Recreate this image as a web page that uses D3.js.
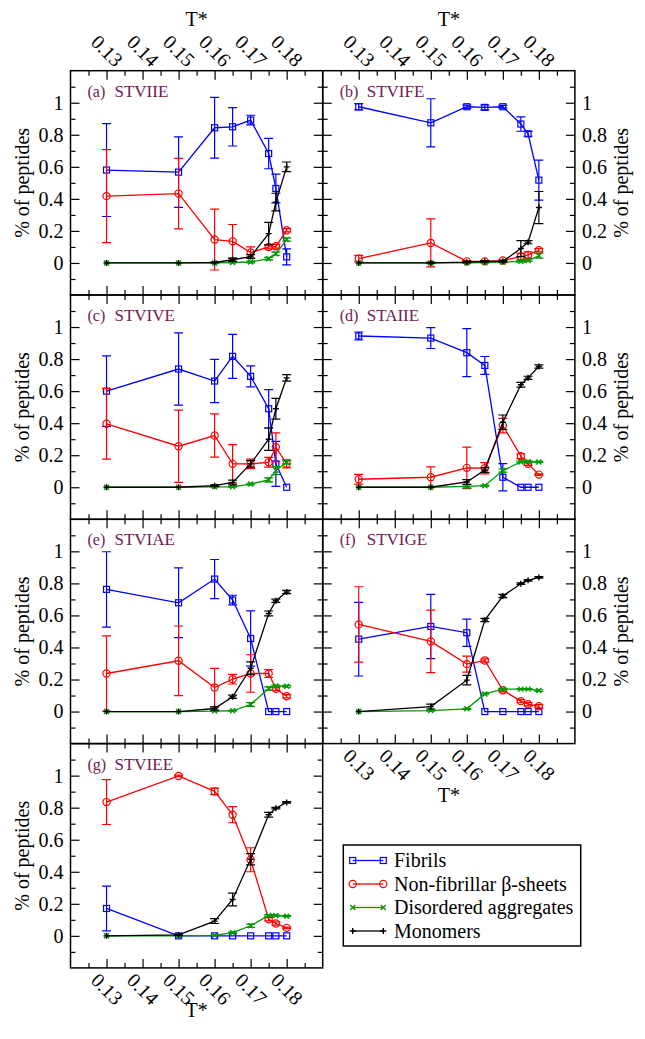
<!DOCTYPE html>
<html><head><meta charset="utf-8">
<script src="https://cdn.jsdelivr.net/npm/d3@7"></script>
<style>
body{margin:0;background:#fff}
svg{display:block}
</style>
</head><body>
<svg id="chart" width="645" height="1039"></svg>
<script>
// ---------------- data ----------------
const temperatures = [0.13, 0.15, 0.16, 0.165, 0.17, 0.175, 0.177, 0.18];
const panelLabels = ["(a)", "(b)", "(c)", "(d)", "(e)", "(f)", "(g)"];
const peptides = ["STVIIE", "STVIFE", "STVIVE", "STAIIE", "STVIAE", "STVIGE", "STVIEE"];
const seriesNames = ["Fibrils", "Non-fibrillar β-sheets", "Disordered aggregates", "Monomers"];
const xTickValues = [0.13, 0.14, 0.15, 0.16, 0.17, 0.18];
const xMinorTicks = [0.125, 0.135, 0.145, 0.155, 0.165, 0.175, 0.185];
const yTickValues = [0, 0.2, 0.4, 0.6, 0.8, 1];
const yMinorTicks = [-0.1, 0.1, 0.3, 0.5, 0.7, 0.9, 1.1];
const xAxisTitle = "T*";
const yAxisTitle = "% of peptides";

// one row per peptide (a..g), one value per temperature
const fibrils = [
  [0.58, 0.567, 0.844, 0.85, 0.892, 0.683, 0.465, 0.038],
  [0.975, 0.875, 0.975, 0.971, 0.975, 0.867, 0.806, 0.517],
  [0.6, 0.738, 0.663, 0.817, 0.692, 0.49, 0.146, 0],
  [0.944, 0.931, 0.84, 0.76, 0.0625, 0, 0, 0],
  [0.7625, 0.679, 0.827, 0.696, 0.456, 0, 0, 0],
  [0.452, 0.531, 0.492, 0, 0, 0, 0, 0],
  [0.171, 0, 0, 0, 0, 0, 0, 0]
];
const fibrilsErr = [
  [0.29, 0.22, 0.19, 0.12, 0.03, 0.095, 0.09, 0.05],
  [0.02, 0.15, 0.01, 0.015, 0.008, 0.045, 0.015, 0.125],
  [0.22, 0.225, 0.135, 0.137, 0.065, 0.12, 0.14, 0],
  [0.025, 0.065, 0.15, 0.056, 0.085, 0, 0, 0],
  [0.235, 0.218, 0.122, 0.03, 0.173, 0, 0, 0],
  [0.23, 0.2, 0.085, 0, 0, 0, 0, 0],
  [0.14, 0, 0, 0, 0, 0, 0, 0]
];
const nonFibrillar = [
  [0.417, 0.433, 0.146, 0.135, 0.065, 0.1, 0.104, 0.204],
  [0.027, 0.125, 0.01, 0.01, 0.015, 0.04, 0.05, 0.079],
  [0.396, 0.256, 0.323, 0.146, 0.146, 0.156, 0.25, 0.146],
  [0.05, 0.0625, 0.121, 0.119, 0.385, 0.194, 0.146, 0.079],
  [0.2375, 0.317, 0.15, 0.202, 0.2375, 0.2375, 0.142, 0.096],
  [0.544, 0.4375, 0.296, 0.319, 0.133, 0.065, 0.046, 0.033],
  [0.835, 0.998, 0.902, 0.756, 0.475, 0.104, 0.077, 0.05]
];
const nonFibrillarErr = [
  [0.29, 0.22, 0.19, 0.105, 0.035, 0.012, 0.012, 0.01],
  [0.02, 0.15, 0.005, 0.005, 0.005, 0.02, 0.02, 0.01],
  [0.22, 0.225, 0.135, 0.12, 0.03, 0.03, 0.09, 0.025],
  [0.03, 0.065, 0.13, 0.035, 0.045, 0.015, 0.01, 0.005],
  [0.235, 0.217, 0.12, 0.03, 0.117, 0.025, 0.01, 0.01],
  [0.235, 0.195, 0.05, 0.01, 0.01, 0.01, 0.01, 0.01],
  [0.14, 0.005, 0.02, 0.05, 0.075, 0.01, 0.01, 0.005]
];
const disordered = [
  [0, 0, 0, 0.003, 0.006, 0.027, 0.058, 0.146],
  [0, 0, 0, 0.003, 0.005, 0.01, 0.015, 0.045],
  [0, 0, 0.003, 0.003, 0.02, 0.046, 0.104, 0.156],
  [0, 0, 0.006, 0.01, 0.104, 0.158, 0.16, 0.158],
  [0, 0, 0.003, 0.005, 0.044, 0.144, 0.16, 0.158],
  [0, 0.006, 0.017, 0.11, 0.14, 0.14, 0.14, 0.131],
  [0, 0, 0.003, 0.02, 0.063, 0.127, 0.127, 0.123]
];
const disorderedErr = [
  [0, 0, 0, 0.003, 0.005, 0.008, 0.01, 0.01],
  [0, 0, 0, 0.002, 0.003, 0.005, 0.005, 0.015],
  [0, 0, 0.002, 0.002, 0.005, 0.012, 0.025, 0.01],
  [0, 0, 0.01, 0.003, 0.01, 0.005, 0.005, 0.003],
  [0, 0, 0.002, 0.002, 0.012, 0.01, 0.005, 0.005],
  [0, 0.003, 0.003, 0.005, 0.005, 0.003, 0.003, 0.005],
  [0, 0, 0.002, 0.005, 0.01, 0.005, 0.003, 0.003]
];
const monomers = [
  [0, 0, 0.003, 0.02, 0.04, 0.183, 0.38, 0.6],
  [0, 0, 0.005, 0.01, 0.01, 0.09, 0.13, 0.346],
  [0, 0, 0.01, 0.03, 0.146, 0.3, 0.49, 0.683],
  [0, 0, 0.033, 0.108, 0.406, 0.64, 0.683, 0.754],
  [0, 0, 0.019, 0.092, 0.27, 0.6125, 0.692, 0.746],
  [0, 0.031, 0.196, 0.571, 0.721, 0.798, 0.819, 0.8375],
  [0, 0.006, 0.092, 0.227, 0.478, 0.756, 0.797, 0.833]
];
const monomersErr = [
  [0, 0, 0.003, 0.01, 0.012, 0.07, 0.055, 0.03],
  [0, 0.005, 0.005, 0.005, 0.005, 0.05, 0.01, 0.1],
  [0, 0, 0.005, 0.015, 0.02, 0.07, 0.065, 0.02],
  [0, 0, 0.015, 0.015, 0.045, 0.015, 0.01, 0.01],
  [0, 0, 0.01, 0.01, 0.04, 0.015, 0.01, 0.01],
  [0, 0.015, 0.03, 0.01, 0.01, 0.005, 0.005, 0.005],
  [0, 0.005, 0.015, 0.04, 0.035, 0.015, 0.005, 0.005]
];

// ---------------- drawing ----------------
const FONT = "Liberation Serif";
const svg = d3.select("#chart");
const panelW = 252.2, panelH = 224.3;
const lefts = [70.5, 322.7];
const top0 = 70.7;
const labelColor = "#6e2050";
const lineW = 1.3;

const series = [
  {vals: fibrils, errs: fibrilsErr, color: "#0000ff", marker: "square"},
  {vals: nonFibrillar, errs: nonFibrillarErr, color: "#ff0000", marker: "circle"},
  {vals: disordered, errs: disorderedErr, color: "#009a00", marker: "cross"},
  {vals: monomers, errs: monomersErr, color: "#000000", marker: "plus"}
];

function drawMarker(sel, type, color, cx, cy) {
  if (type === "square") {
    sel.append("rect").attr("x", cx - 3).attr("y", cy - 3).attr("width", 6).attr("height", 6)
      .attr("fill", "none").attr("stroke", color).attr("stroke-width", 1.2);
  } else if (type === "circle") {
    sel.append("circle").attr("cx", cx).attr("cy", cy).attr("r", 3.6)
      .attr("fill", "none").attr("stroke", color).attr("stroke-width", 1.2);
  } else if (type === "cross") {
    sel.append("path").attr("d", `M${cx-2.5},${cy-2.5}L${cx+2.5},${cy+2.5}M${cx-2.5},${cy+2.5}L${cx+2.5},${cy-2.5}`)
      .attr("stroke", color).attr("stroke-width", 1.4);
  } else {
    sel.append("path").attr("d", `M${cx-3},${cy}L${cx+3},${cy}M${cx},${cy-3}L${cx},${cy+3}`)
      .attr("stroke", color).attr("stroke-width", 1.4);
  }
}

function styleAxis(s) {
  s.select(".domain").remove();
  s.attr("font-family", FONT).attr("font-size", 20);
  s.selectAll("line").attr("stroke", "#000").attr("stroke-width", 1.2);
  s.selectAll("text").attr("fill", "#000");
}

peptides.forEach((pep, i) => {
  const col = i % 2, row = Math.floor(i / 2);
  const gx = lefts[col], gy = top0 + row * panelH;
  const g = svg.append("g").attr("transform", `translate(${gx},${gy})`);
  const x = d3.scaleLinear().domain([0.12, 0.19]).range([0, panelW]);
  const y = d3.scaleLinear().domain([-0.2, 1.2]).range([panelH, 0]);

  const clipId = "clip" + i;
  g.append("clipPath").attr("id", clipId).append("rect").attr("width", panelW).attr("height", panelH);

  // minor ticks
  g.append("g").call(d3.axisTop(x).tickValues(xMinorTicks).tickSize(-5).tickFormat("")).call(styleAxis);
  g.append("g").attr("transform", `translate(0,${panelH})`).call(d3.axisBottom(x).tickValues(xMinorTicks).tickSize(-5).tickFormat("")).call(styleAxis);
  g.append("g").call(d3.axisLeft(y).tickValues(yMinorTicks).tickSize(-5).tickFormat("")).call(styleAxis);
  g.append("g").attr("transform", `translate(${panelW},0)`).call(d3.axisRight(y).tickValues(yMinorTicks).tickSize(-5).tickFormat("")).call(styleAxis);

  // major ticks (labels only on outer edges)
  const fmtX = d3.format(".2f");
  const fmtY = d3.format("~g");
  const topAx = g.append("g").call(d3.axisTop(x).tickValues(xTickValues).tickSize(-9).tickFormat(row === 0 ? fmtX : "")).call(styleAxis);
  const botLabels = (i === 5 || i === 6);
  const botAx = g.append("g").attr("transform", `translate(0,${panelH})`).call(d3.axisBottom(x).tickValues(xTickValues).tickSize(-9).tickFormat(botLabels ? fmtX : "")).call(styleAxis);
  g.append("g").call(d3.axisLeft(y).tickValues(yTickValues).tickSize(-9).tickPadding(7).tickFormat(col === 0 ? fmtY : "")).call(styleAxis);
  g.append("g").attr("transform", `translate(${panelW},0)`).call(d3.axisRight(y).tickValues(yTickValues).tickSize(-9).tickPadding(7).tickFormat(col === 1 ? fmtY : "")).call(styleAxis);

  topAx.selectAll("text").attr("y", null).attr("dy", null)
    .attr("text-anchor", "middle").attr("dominant-baseline", "central")
    .attr("transform", "translate(0,-20) rotate(45)");
  botAx.selectAll("text").attr("y", null).attr("dy", null)
    .attr("text-anchor", "middle").attr("dominant-baseline", "central")
    .attr("transform", "translate(0,21) rotate(45)");

  // frame
  g.append("rect").attr("width", panelW).attr("height", panelH)
    .attr("fill", "none").attr("stroke", "#000").attr("stroke-width", 1.5);

  // series
  const plot = g.append("g").attr("clip-path", `url(#${clipId})`);
  series.forEach(s => {
    const vals = s.vals[i], errs = s.errs[i];
    const pts = temperatures.map((t, k) => ({t, v: vals[k], e: errs[k]}));
    const sg = plot.append("g");
    sg.append("path").datum(pts)
      .attr("d", d3.line().x(d => x(d.t)).y(d => y(d.v)))
      .attr("fill", "none").attr("stroke", s.color).attr("stroke-width", lineW);
    pts.forEach(d => {
      if (d.e > 0) {
        const cx = x(d.t), y1 = y(d.v + d.e), y2 = y(d.v - d.e);
        sg.append("path").attr("d", `M${cx},${y1}L${cx},${y2}M${cx-4.5},${y1}L${cx+4.5},${y1}M${cx-4.5},${y2}L${cx+4.5},${y2}`)
          .attr("fill", "none").attr("stroke", s.color).attr("stroke-width", 1.2);
      }
      drawMarker(sg, s.marker, s.color, x(d.t), y(d.v));
    });
  });

  // panel label
  g.append("text").attr("x", 17).attr("y", 26).attr("fill", labelColor).attr("font-size", 16)
    .text(panelLabels[i]);
  g.append("text").attr("x", 44).attr("y", 26).attr("fill", labelColor).attr("font-size", 17)
    .text(pep);

  // y-axis title
  const tx = col === 0 ? -49 : panelW + 46;
  g.append("text").attr("transform", `translate(${tx},${panelH / 2}) rotate(-90)`)
    .attr("text-anchor", "middle").attr("dominant-baseline", "central").attr("font-size", 20)
    .text(yAxisTitle);

  // x-axis titles
  if (row === 0) {
    g.append("text").attr("x", panelW / 2).attr("y", -44.7).attr("text-anchor", "middle").attr("font-size", 20).text(xAxisTitle);
  }
  if (i === 6) {
    g.append("text").attr("x", panelW / 2).attr("y", panelH + 49).attr("text-anchor", "middle").attr("font-size", 20).text(xAxisTitle);
  }
  if (i === 5) {
    g.append("text").attr("x", panelW / 2).attr("y", panelH + 58).attr("text-anchor", "middle").attr("font-size", 20).text(xAxisTitle);
  }
});

// legend
const legend = svg.append("g").attr("transform", "translate(343.3,845)");
legend.append("rect").attr("width", 237.4).attr("height", 101)
  .attr("fill", "#fff").attr("stroke", "#000").attr("stroke-width", 1.5);
const legY = d3.scalePoint().domain(seriesNames).range([15.5, 86]);
series.forEach((s, k) => {
  const yy = legY(seriesNames[k]);
  const lg = legend.append("g");
  lg.append("line").attr("x1", 9.4).attr("x2", 40).attr("y1", yy).attr("y2", yy)
    .attr("stroke", s.color).attr("stroke-width", lineW);
  drawMarker(lg, s.marker, s.color, 9.4, yy);
  drawMarker(lg, s.marker, s.color, 40, yy);
  lg.append("text").attr("x", 50.7).attr("y", yy).attr("dy", "0.33em").attr("font-size", 20).text(seriesNames[k]);
});

svg.selectAll("text").attr("font-family", FONT);
</script>
</body></html>
